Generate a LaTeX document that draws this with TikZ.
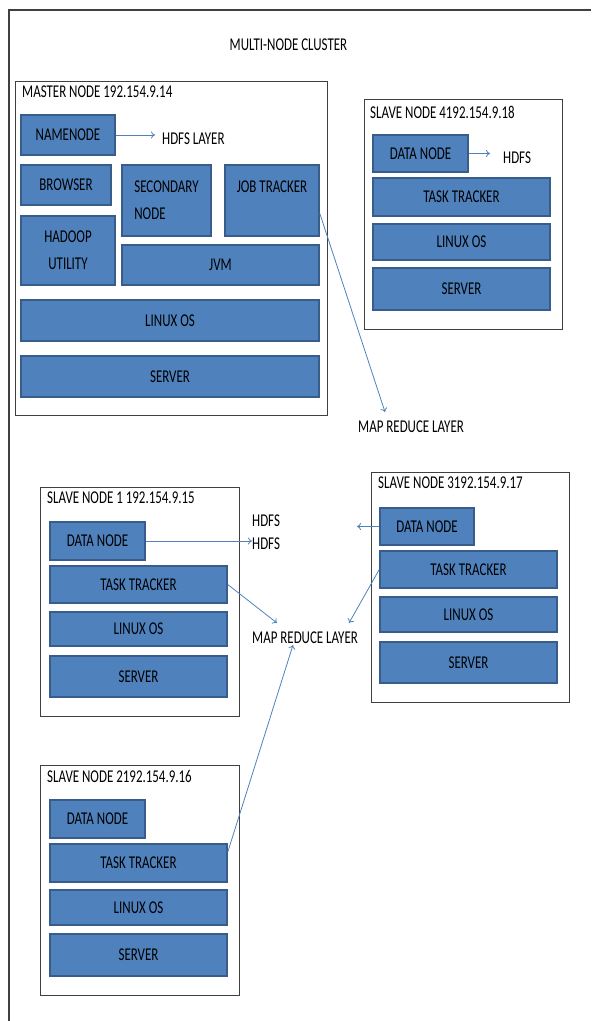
\documentclass[tikz,border=0pt]{standalone}
\usepackage{fontspec}
\setmainfont{Carlito}[FakeStretch=0.72]
\usetikzlibrary{arrows.meta}
\definecolor{boxblue}{HTML}{4F81BD}
\definecolor{boxedge}{HTML}{385D8A}
\definecolor{framegray}{HTML}{404040}
\tikzset{
  layer/.style={draw=boxedge, fill=boxblue, line width=1.5pt, inner sep=0pt, align=center, font=\fontsize{18}{27}\selectfont},
  lbl/.style={inner sep=0pt, font=\fontsize{18}{27}\selectfont},
  host/.style={draw=framegray, line width=0.9pt},
  flow/.style={draw=boxblue, line width=0.8pt, -{To[length=4pt,width=7pt]}},
}
\begin{document}
\begin{tikzpicture}[x=1pt,y=-1pt]
\useasboundingbox (0,0) rectangle (595,1021);
\draw[host, line width=1.2pt] (9,1021) -- (9,10) -- (591,10);
\node[lbl] (title) at (288.5,45) {MULTI-NODE CLUSTER};

% Master
\draw[host] (15,81) rectangle (327,415);
\node[lbl, anchor=west] (m-title) at (22,92) {MASTER NODE 192.154.9.14};
\node[layer, minimum width=94pt, minimum height=40pt] (m-nn) at (68,135) {NAMENODE};
\node[layer, minimum width=90pt, minimum height=40pt] (m-br) at (66,185) {BROWSER};
\node[layer, minimum width=94pt, minimum height=69pt] (m-hu) at (68,250.5) {HADOOP\\UTILITY};
\node[layer, minimum width=89pt, minimum height=71pt, align=left] (m-sn) at (166.5,200.5) {SECONDARY\\NODE};
\node[layer, minimum width=94pt, minimum height=71pt] (m-jt) at (272,200.5) {JOB TRACKER\\~};
\node[layer, minimum width=197pt, minimum height=40pt] (m-jvm) at (220.5,265) {JVM};
\node[layer, minimum width=298pt, minimum height=41pt] (m-os) at (170,320.5) {LINUX OS};
\node[layer, minimum width=298pt, minimum height=41pt] (m-srv) at (170,376.5) {SERVER};
\node[lbl, anchor=west] (hdfs-l) at (162,139) {HDFS LAYER};
\node[lbl, anchor=west] (mr1) at (358,427) {MAP REDUCE LAYER};

% Slave 4
\draw[host] (364,99) rectangle (562,329);
\node[lbl, anchor=west] (s4-title) at (370,112) {SLAVE NODE 4192.154.9.18};
\node[layer, minimum width=95pt, minimum height=37pt] (s4-dn) at (420.5,153.5) {DATA NODE};
\node[layer, minimum width=177pt, minimum height=38pt] (s4-tt) at (461.5,197) {TASK TRACKER};
\node[layer, minimum width=177pt, minimum height=36pt] (s4-os) at (461.5,242) {LINUX OS};
\node[layer, minimum width=177pt, minimum height=42pt] (s4-srv) at (461.5,289) {SERVER};
\node[lbl, anchor=west] (s4-hdfs) at (503,158) {HDFS};

% Slave 1
\draw[host] (40,487) rectangle (239,716);
\node[lbl, anchor=west] (s1-title) at (47,498) {SLAVE NODE 1 192.154.9.15};
\node[layer, minimum width=95pt, minimum height=38pt] (s1-dn) at (97.5,541) {DATA NODE};
\node[layer, minimum width=177pt, minimum height=37pt] (s1-tt) at (138.5,584.5) {TASK TRACKER};
\node[layer, minimum width=177pt, minimum height=34pt] (s1-os) at (138.5,629) {LINUX OS};
\node[layer, minimum width=177pt, minimum height=41pt] (s1-srv) at (138.5,676.5) {SERVER};
\node[lbl, anchor=west] (hdfs-a) at (252,521) {HDFS};
\node[lbl, anchor=west] (hdfs-b) at (252,544) {HDFS};
\node[lbl, anchor=west] (mr2) at (252,638) {MAP REDUCE LAYER};

% Slave 3
\draw[host] (371,472) rectangle (569,702);
\node[lbl, anchor=west] (s3-title) at (378,483) {SLAVE NODE 3192.154.9.17};
\node[layer, minimum width=94pt, minimum height=37pt] (s3-dn) at (427,526.5) {DATA NODE};
\node[layer, minimum width=177pt, minimum height=37pt] (s3-tt) at (468.5,569.5) {TASK TRACKER};
\node[layer, minimum width=177pt, minimum height=35pt] (s3-os) at (468.5,614.5) {LINUX OS};
\node[layer, minimum width=177pt, minimum height=41pt] (s3-srv) at (468.5,662.5) {SERVER};

% Slave 2
\draw[host] (40,765) rectangle (239,995);
\node[lbl, anchor=west] (s2-title) at (47,776) {SLAVE NODE 2192.154.9.16};
\node[layer, minimum width=95pt, minimum height=38pt] (s2-dn) at (97.5,819) {DATA NODE};
\node[layer, minimum width=177pt, minimum height=38pt] (s2-tt) at (138.5,863) {TASK TRACKER};
\node[layer, minimum width=177pt, minimum height=35pt] (s2-os) at (138.5,907.5) {LINUX OS};
\node[layer, minimum width=177pt, minimum height=42pt] (s2-srv) at (138.5,955) {SERVER};

% HDFS arrows
\coordinate (hdfs-in) at (357,526.5);
\draw[flow] (m-nn.east) -- ([xshift=-7pt]m-nn.east -| hdfs-l.west);
\draw[flow] (s4-dn.east) -- ([xshift=-13pt]s4-dn.east -| s4-hdfs.west);
\draw[flow] (s1-dn.east) -- (s1-dn.east -| hdfs-b.west);
\draw[flow] (s3-dn.west) -- (hdfs-in);

% Map reduce arrows
\coordinate (mr1-in) at (385,412);
\coordinate (mr2-a) at (277,623);
\coordinate (mr2-b) at (349,623);
\coordinate (mr2-c) at (293,645);
\draw[flow] (m-jt.-15) -- (mr1-in);
\draw[flow] (s1-tt.east) -- (mr2-a);
\draw[flow] (s3-tt.west) -- (mr2-b);
\draw[flow] (s2-tt.7) -- (mr2-c);

\end{tikzpicture}
\end{document}
